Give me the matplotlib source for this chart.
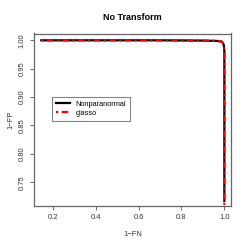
import matplotlib.pyplot as plt

# ROC-style curves (1-FN vs 1-FP)
npn_x = [0.146, 0.3, 0.5, 0.7, 0.9, 0.96, 0.975, 0.985, 0.991, 0.995, 0.998, 1.0, 1.0, 1.0]
npn_y = [1.0, 1.0, 1.0, 1.0, 0.9995, 0.999, 0.9985, 0.998, 0.9965, 0.994, 0.99, 0.98, 0.9, 0.717]
gl_x = [0.146, 0.3, 0.5, 0.7, 0.9, 0.96, 0.975, 0.985, 0.991, 0.995, 0.998, 1.0, 1.0, 1.0]
gl_y = [1.0, 1.0, 1.0, 1.0, 0.9995, 0.999, 0.9985, 0.998, 0.9965, 0.994, 0.99, 0.98, 0.9, 0.70]
xticks = [0.2, 0.4, 0.6, 0.8, 1.0]
yticks = [0.75, 0.80, 0.85, 0.90, 0.95, 1.00]

plt.rcParams['font.family'] = 'Liberation Sans'
fig = plt.figure(figsize=(2.49, 2.49), dpi=100)
ax = fig.add_axes([34 / 249, 1 - 206 / 249, 197 / 249, 172.5 / 249])

ax.plot(npn_x, npn_y, color='black', lw=1.6, label='Nonparanormal')
ax.plot(gl_x, gl_y, color='red', lw=1.6, dashes=(1, 1.5, 3, 1.5), label='glasso')

ax.set_xlim(0.112, 1.031)
ax.set_ylim(0.708, 1.012)
ax.set_xticks(xticks)
ax.set_xticklabels(['0.2', '0.4', '0.6', '0.8', '1.0'])
ax.set_yticks(yticks)
ax.set_yticklabels(['0.75', '0.80', '0.85', '0.90', '0.95', '1.00'], rotation=90, va='center')
ax.tick_params(labelsize=5.5, length=3, width=0.6, color='#555555', labelcolor='#333333', pad=3)
for s in ax.spines.values():
    s.set_color('#666666')
    s.set_linewidth(0.9)

ax.set_xlabel('1\u2212FN', fontsize=5.5, labelpad=7, color='#333333')
ax.set_ylabel('1\u2212FP', fontsize=5.5, labelpad=3, color='#333333')
ax.set_title('No Transform', fontsize=6.5, fontweight='bold', pad=10)

leg = ax.legend(loc='upper left', bbox_to_anchor=((52 - 34) / 197, (206 - 97) / 172.5),
                fontsize=5.3, frameon=True, fancybox=False, handlelength=1.9,
                borderpad=0.5, labelspacing=0.25, handletextpad=0.8, borderaxespad=0)
leg.get_frame().set_edgecolor('#666666')
leg.get_frame().set_linewidth(0.8)

fig.savefig('out.png', dpi=100)
